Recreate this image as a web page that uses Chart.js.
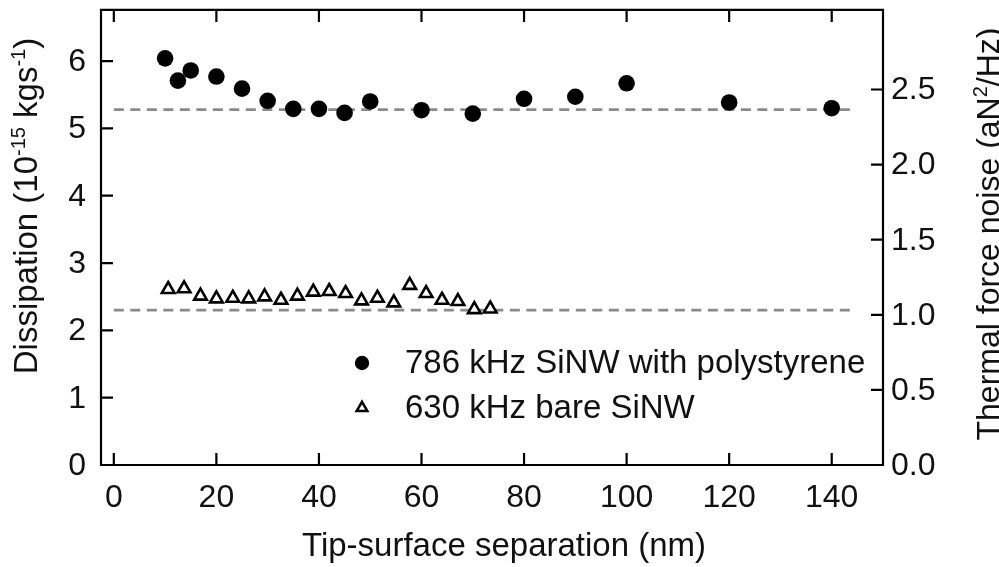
<!DOCTYPE html>
<html>
<head>
<meta charset="utf-8">
<script src="https://cdn.jsdelivr.net/npm/chart.js@4.4.1/dist/chart.umd.min.js"></script>
<style>
  html, body { margin: 0; padding: 0; background: #fff; }
  #wrap { width: 999px; height: 567px; }
</style>
</head>
<body>
<div id="wrap"><canvas id="c" width="999" height="567"></canvas></div>
<script>
// ---- data ----
const polyX = [10, 12.5, 15, 20, 25, 30, 35, 40, 45, 50, 60, 70, 80, 90, 100, 120, 140];
const polyY = [6.04, 5.71, 5.86, 5.77, 5.59, 5.41, 5.29, 5.29, 5.23, 5.40, 5.27, 5.22, 5.44, 5.47, 5.67, 5.385, 5.30];
const bareX = [10.6, 13.7, 16.9, 20.0, 23.2, 26.3, 29.4, 32.6, 35.8, 38.9, 42.0, 45.2, 48.3, 51.4, 54.6, 57.7, 60.9, 64.0, 67.1, 70.3, 73.4];
const bareY = [2.61, 2.62, 2.51, 2.47, 2.48, 2.47, 2.50, 2.45, 2.51, 2.57, 2.58, 2.55, 2.44, 2.48, 2.41, 2.67, 2.55, 2.45, 2.43, 2.31, 2.32];
const refLevels = [5.28, 2.30];
const refX = [0, 144];
const xTicks = [0, 20, 40, 60, 80, 100, 120, 140];
const yTicks = [0, 1, 2, 3, 4, 5, 6];
const y2Ticks = [0.0, 0.5, 1.0, 1.5, 2.0, 2.5];
const seriesNames = ['786 kHz SiNW with polystyrene', '630 kHz bare SiNW'];
const xTitle = 'Tip-surface separation (nm)';
const yTitleParts = [['Dissipation (10', false], ['-15', true], [' kgs', false], ['-1', true], [')', false]];
const y2TitleParts = [['Thermal force noise (aN', false], ['2', true], ['/Hz)', false]];

const FONT = "'Liberation Sans', Arial, sans-serif";
const FS = 32;

function pts(xs, ys) { return xs.map((v, i) => ({ x: v, y: ys[i] })); }

const datasets = [
  { label: seriesNames[0], data: pts(polyX, polyY), pointStyle: 'circle', pointRadius: 8.3,
    backgroundColor: '#000', borderColor: '#000', borderWidth: 0, showLine: false, order: 0 },
  { label: seriesNames[1], data: pts(bareX, bareY), pointStyle: 'triangle', pointRadius: 7.3,
    backgroundColor: '#fff', borderColor: '#000', borderWidth: 2.6, showLine: false, order: 1 }
];
refLevels.forEach((lv, i) => {
  datasets.push({ label: 'ref' + i, data: refX.map(v => ({ x: v, y: lv })), showLine: true,
    pointRadius: 0, borderColor: '#8a8a8a', borderWidth: 2.8, borderDash: [10, 6.5], order: 5 + i });
});

function drawRich(ctx, parts, size, cx, cy, rot, baselineOffset) {
  const supSize = Math.round(size * 0.62);
  let total = 0;
  const widths = parts.map(([t, sup]) => {
    ctx.font = (sup ? supSize : size) + 'px ' + FONT;
    const w = ctx.measureText(t).width;
    total += w;
    return w;
  });
  ctx.save();
  ctx.translate(cx, cy);
  ctx.rotate(rot);
  ctx.textBaseline = 'alphabetic';
  ctx.textAlign = 'left';
  let xpos = -total / 2;
  parts.forEach(([t, sup], i) => {
    ctx.font = (sup ? supSize : size) + 'px ' + FONT;
    ctx.fillText(t, xpos, baselineOffset + (sup ? -size * 0.36 : 0));
    xpos += widths[i];
  });
  ctx.restore();
}

const framePlugin = {
  id: 'frame',
  afterDraw(chart) {
    const { ctx, chartArea: { left, right, top, bottom }, scales: { x, y, y2 } } = chart;
    const TL = 12;
    ctx.save();
    ctx.strokeStyle = '#000';
    ctx.lineWidth = 2.2;
    ctx.lineCap = 'butt';
    ctx.beginPath();
    ctx.rect(left, top, right - left, bottom - top);
    xTicks.forEach(v => {
      const p = x.getPixelForValue(v);
      ctx.moveTo(p, bottom); ctx.lineTo(p, bottom - TL);
      ctx.moveTo(p, top); ctx.lineTo(p, top + TL);
    });
    yTicks.forEach(v => {
      const p = y.getPixelForValue(v);
      ctx.moveTo(left, p); ctx.lineTo(left + TL, p);
    });
    y2Ticks.forEach(v => {
      const p = y2.getPixelForValue(v);
      ctx.moveTo(right, p); ctx.lineTo(right - TL, p);
    });
    ctx.stroke();

    ctx.fillStyle = '#111';
    ctx.font = FS + 'px ' + FONT;
    ctx.textAlign = 'right'; ctx.textBaseline = 'middle';
    yTicks.forEach(v => ctx.fillText(String(v), left - 15, y.getPixelForValue(v) + 1));
    ctx.textAlign = 'left';
    y2Ticks.forEach(v => ctx.fillText(v.toFixed(1), right + 8, y2.getPixelForValue(v) + 1));
    ctx.textAlign = 'center'; ctx.textBaseline = 'middle';
    xTicks.forEach(v => ctx.fillText(String(v), x.getPixelForValue(v), bottom + 33));
    ctx.font = '33px ' + FONT;
    ctx.fillText(xTitle, (left + right) / 2 + 12, bottom + 82);
    drawRich(ctx, yTitleParts, 33, 37, 206, -Math.PI / 2, 0);
    drawRich(ctx, y2TitleParts, 32, 999, 234, -Math.PI / 2, 0);

    // legend
    const lx = 362, ly1 = 363, ly2 = 408;
    ctx.fillStyle = '#000';
    ctx.beginPath(); ctx.arc(lx, ly1, 7.2, 0, Math.PI * 2); ctx.fill();
    ctx.lineWidth = 2.5;
    const r = 6.2;
    ctx.beginPath();
    ctx.moveTo(lx, ly2 - r);
    ctx.lineTo(lx + r * Math.sin(Math.PI * 2 / 3), ly2 - r * Math.cos(Math.PI * 2 / 3));
    ctx.lineTo(lx - r * Math.sin(Math.PI * 2 / 3), ly2 - r * Math.cos(Math.PI * 2 / 3));
    ctx.closePath(); ctx.stroke();
    ctx.fillStyle = '#111';
    ctx.font = '33px ' + FONT;
    ctx.textAlign = 'left'; ctx.textBaseline = 'middle';
    ctx.fillText(seriesNames[0], 405, ly1 + 1);
    ctx.fillText(seriesNames[1], 405, ly2 + 1);
    ctx.restore();
  }
};

new Chart(document.getElementById('c'), {
  type: 'scatter',
  data: { datasets },
  options: {
    responsive: false,
    animation: false,
    events: [],
    layout: { padding: { top: 8, left: 0, right: 0, bottom: 0 } },
    plugins: { legend: { display: false }, tooltip: { enabled: false } },
    scales: {
      x: { type: 'linear', position: 'bottom', min: -2.5, max: 150,
        grid: { display: false }, border: { display: false }, ticks: { display: false },
        afterFit(s) { s.height = 102; } },
      y: { type: 'linear', position: 'left', min: 0, max: 6.76,
        grid: { display: false }, border: { display: false }, ticks: { display: false },
        afterFit(s) { s.width = 101; } },
      y2: { type: 'linear', position: 'right', min: 0, max: 3.03,
        grid: { display: false }, border: { display: false }, ticks: { display: false },
        afterFit(s) { s.width = 116; } }
    }
  },
  plugins: [framePlugin]
});
</script>
</body>
</html>
